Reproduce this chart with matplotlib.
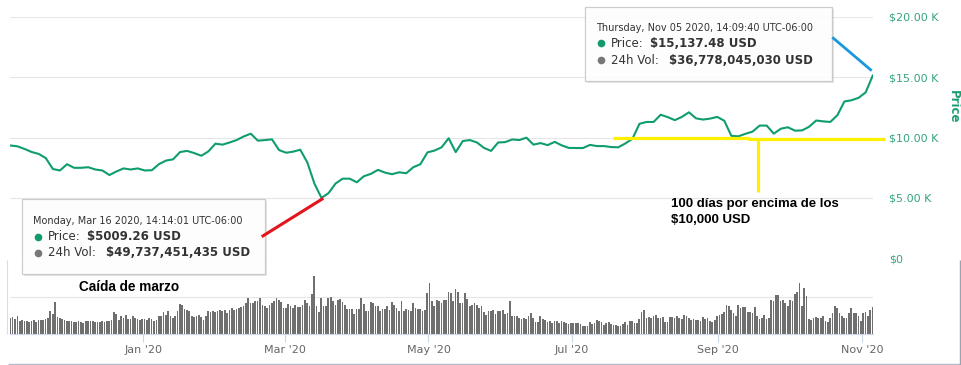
import pandas as pd
import matplotlib.pyplot as plt
from matplotlib.lines import Line2D
from matplotlib.patches import Rectangle

W, H = 962, 365

# BTC price (thousands of USD), one reading every 3 days from Nov 5 2019
price_k = [
    9.35, 9.28, 9.06, 8.81, 8.65, 8.30, 7.40, 7.28, 7.80, 7.50,
    7.50, 7.55, 7.36, 7.28, 6.90, 7.20, 7.45, 7.36, 7.45, 7.28,
    7.30, 7.80, 8.10, 8.20, 8.81, 8.90, 8.72, 8.50, 8.86, 9.50,
    9.42, 9.60, 9.80, 10.10, 10.33, 9.75, 9.80, 9.86, 8.97, 8.75,
    8.84, 9.00, 7.95, 6.20, 5.01, 5.40, 6.20, 6.60, 6.60, 6.30,
    6.80, 7.00, 7.33, 7.10, 6.97, 7.13, 7.05, 7.55, 7.80, 8.78,
    8.93, 9.20, 9.95, 8.80, 9.72, 9.80, 9.60, 9.15, 8.90, 9.60,
    9.63, 9.85, 9.80, 10.00, 9.42, 9.55, 9.38, 9.65, 9.36, 9.15,
    9.14, 9.14, 9.40, 9.30, 9.30, 9.22, 9.20, 9.52, 9.90, 11.15,
    11.30, 11.30, 11.90, 11.70, 11.45, 11.72, 12.10, 11.60, 11.50, 11.58,
    11.72, 11.40, 10.15, 10.11, 10.32, 10.50, 11.00, 11.00, 10.33, 10.74,
    10.86, 10.58, 10.60, 10.90, 11.42, 11.35, 11.30, 11.86, 13.00, 13.10,
    13.30, 13.75, 15.14,
]
price_dates = pd.date_range('2019-11-05 14:00', periods=len(price_k), freq='3D')

# daily 24h volume (billions of USD)
vol_nov_feb = [
    21.8, 22.7, 20.9, 24.1, 17.3, 18.6, 17.3, 18.2, 16.4, 17.3,
    19.5, 16.4, 19.5, 19.5, 19.5, 20.5, 21.8, 31.8, 27.7, 43.6,
    22.7, 21.8, 20.5, 19.5, 18.2, 17.3, 17.3, 16.4, 15.9, 17.3,
    16.4, 15.0, 17.3, 18.2, 17.3, 17.3, 16.4, 15.9, 15.9, 17.3,
    16.4, 17.3, 17.3, 19.5, 29.5, 27.7, 19.5, 24.1, 21.8, 26.4,
    20.5, 20.5, 24.1, 21.4, 20.5, 19.5, 20.5, 20.5, 19.5, 21.8,
    20.5, 17.3, 19.5, 24.1, 24.1, 29.5, 26.4, 30.9, 24.1, 21.8,
    24.1, 30.9, 40.9, 40.0, 34.1, 33.2, 30.9, 24.1, 23.2, 24.1,
    26.4, 23.2, 19.5, 24.1, 30.9, 30.0, 30.9, 29.5, 30.9, 33.2,
    30.9, 32.3,
]
vol_feb_may = [
    28.6, 33.2, 35.5, 33.2, 34.1, 35.5, 36.8, 37.7, 42.3, 49.1,
    42.3, 42.3, 44.5, 44.5, 49.1, 40.0, 37.7, 35.5, 40.0, 42.3,
    44.5, 48.2, 46.8, 43.2, 35.5, 35.5, 40.9, 38.6, 35.5, 40.0,
    36.8, 36.8, 40.0, 45.9, 42.3, 37.7, 53.6, 78.6,
    37.7, 29.5, 49.1, 37.7, 37.7, 49.1, 50.5, 44.5, 40.0, 46.8,
    47.7, 43.6, 40.0, 34.1, 34.1, 34.1, 27.7, 34.1, 34.1, 49.1,
    40.9, 30.9, 30.9, 43.2, 42.3, 38.6, 37.7, 30.9, 34.1, 34.1,
    37.7, 33.2, 43.2, 40.0, 35.5, 30.9, 44.5, 30.9, 34.1, 32.3,
    30.9, 42.3, 35.5, 34.1, 34.1, 30.9, 33.2, 55.9, 69.5,
    44.5, 38.6, 45.9, 44.5, 42.3, 46.8,
]
vol_may_aug = [
    46.8, 56.8, 55.0, 44.5, 61.4, 56.8, 42.3, 42.3, 55.9, 47.7,
    38.6, 40.0, 42.3, 40.0, 35.5, 38.6, 29.5, 26.4, 30.9, 30.9,
    32.3, 27.7, 30.9, 30.9, 32.3, 27.7, 28.6, 44.5, 24.1, 24.1,
    25.0, 21.8, 20.5, 21.8, 20.5, 24.1, 28.6, 21.8, 15.9, 15.9,
    25.0, 20.9, 19.5, 15.9, 17.3, 15.0, 18.2, 17.3, 15.0, 17.3,
    15.9, 15.0, 13.6, 15.0, 15.0, 15.0, 15.0, 13.6, 11.4, 10.5,
    11.4, 15.9, 14.1, 15.0, 18.6, 17.3, 15.9, 12.7, 15.0, 16.4,
    14.1, 12.7, 12.7, 10.5, 10.5, 13.6, 15.9, 12.7, 17.3, 17.3,
    15.0, 15.0, 20.5, 29.5, 32.3, 21.8, 22.7, 21.8, 24.1, 26.4,
    21.8, 21.8,
]
vol_aug_nov = [
    22.7, 15.9, 15.9, 23.2, 23.2, 21.8, 24.1, 21.8, 20.5, 25.5,
    24.1, 21.8, 19.5, 20.5, 19.5, 18.6, 17.3, 22.7, 20.9, 21.8,
    17.3, 15.9,
    19.5, 24.1, 26.4, 27.7, 29.5, 40.0, 37.7, 33.2, 28.6, 25.0,
    40.0, 35.5, 36.8, 36.8, 29.5, 29.5, 28.6, 36.8, 25.0, 20.5,
    21.8, 26.4, 20.5, 21.8,
    45.9, 44.5, 52.3, 52.3, 44.5, 45.9, 42.3, 38.6, 45.9, 44.5,
    53.6, 56.8, 68.6, 37.7, 62.7, 51.4,
    20.5, 18.6, 21.8, 23.2, 21.8, 21.8, 24.1, 17.3, 15.9, 21.8,
    28.6, 37.7, 35.5, 28.6, 24.1, 21.8, 21.8, 28.6, 35.5, 28.6,
    28.6, 24.1, 17.3, 28.6, 29.5, 24.1, 33.2, 36.8,
]
volume_b = vol_nov_feb + vol_feb_may + vol_may_aug + vol_aug_nov
vol_dates = pd.date_range(end='2020-11-05 12:00', periods=len(volume_b), freq='D')

price_ticks = [0, 5, 10, 15, 20]
price_tick_labels = ['$0', '$5.00 K', '$10.00 K', '$15.00 K', '$20.00 K']
month_ticks = pd.to_datetime(['2020-01-01', '2020-03-01', '2020-05-01',
                              '2020-07-01', '2020-09-01', '2020-11-01'])
month_labels = ["Jan '20", "Mar '20", "May '20", "Jul '20", "Sep '20", "Nov '20"]


def fx(x):
    return x / W


def fy(y):
    return 1 - y / H


fig = plt.figure(figsize=(9.62, 3.65), dpi=100)
left, right = 10, 873
xlim = (pd.Timestamp('2019-11-05 09:00'), pd.Timestamp('2020-11-05 17:00'))
ax = fig.add_axes([fx(left), fy(258.3), (right - left) / W, (258.3 - 17) / H])
axv = fig.add_axes([fx(left), fy(334.3), (right - left) / W, (334.3 - 270) / H], sharex=ax)

# price panel
ax.plot(price_dates, price_k, color='#0f9d6f', lw=1.5, solid_joinstyle='round', zorder=3)
ax.set_ylim(0, 20)
ax.set_xlim(*xlim)
ax.set_yticks(price_ticks)
ax.set_yticklabels(price_tick_labels)
ax.yaxis.tick_right()
ax.tick_params(axis='y', length=0, pad=11.5, labelsize=8, labelcolor='#35a37c')
ax.tick_params(axis='x', length=0, labelbottom=False)
ax.grid(axis='y', color='#e6e6e6', lw=0.8)
for s in ax.spines.values():
    s.set_visible(False)
fig.text(fx(953), fy(107), 'Price', rotation=270, color='#1b9e6f', fontsize=8.5,
         fontweight='bold', ha='center', va='center')

# volume panel
axv.bar(vol_dates, volume_b, width=0.72, color='#6f6f6f', antialiased=False, zorder=2)
axv.set_ylim(0, 86.5)
axv.set_yticks([50])
axv.tick_params(axis='y', length=0, labelleft=False)
axv.grid(axis='y', color='#e6e6e6', lw=0.8)
axv.set_xticks(month_ticks)
axv.set_xticklabels(month_labels)
axv.tick_params(axis='x', length=6, width=0.8, color='#ccd6eb', pad=2,
                labelsize=8, labelcolor='#666666')
for name, s in axv.spines.items():
    s.set_visible(name == 'bottom')
axv.spines['bottom'].set_color('#ccd6eb')
axv.set_xlim(*xlim)


def tooltip(x0, y0, x1, y1, date_txt, price_txt, vol_txt, tx, dx_price, dx_vol, ys):
    fig.add_artist(Rectangle((fx(x0 + 2), fy(y1 + 2)), (x1 - x0) / W, (y1 - y0) / H,
                             transform=fig.transFigure, facecolor='black', alpha=0.10,
                             edgecolor='none', zorder=5))
    fig.add_artist(Rectangle((fx(x0), fy(y1)), (x1 - x0) / W, (y1 - y0) / H,
                             transform=fig.transFigure, facecolor='white', alpha=0.93,
                             edgecolor='#c8c8c8', lw=0.9, zorder=6))
    fig.text(fx(tx), fy(ys[0]), date_txt, fontsize=7, color='#333333', va='center', zorder=7)
    for y, col, lab, dx, val in [(ys[1], '#119a6c', 'Price:', dx_price, price_txt),
                                 (ys[2], '#777777', '24h Vol:', dx_vol, vol_txt)]:
        fig.add_artist(Line2D([fx(tx + 5)], [fy(y)], transform=fig.transFigure,
                              marker='o', ms=4.5, color=col, zorder=7))
        fig.text(fx(tx + 15), fy(y), lab, fontsize=8.5, color='#333333', va='center', zorder=7)
        fig.text(fx(tx + dx), fy(y), val, fontsize=8.5, fontweight='bold',
                 color='#333333', va='center', zorder=7)


tooltip(22, 199, 265, 274, 'Monday, Mar 16 2020, 14:14:01 UTC-06:00',
        '$5009.26 USD', '$49,737,451,435 USD', 33, 54, 73, (221, 236.7, 252.7))
tooltip(585, 7, 832, 81, 'Thursday, Nov 05 2020, 14:09:40 UTC-06:00',
        '$15,137.48 USD', '$36,778,045,030 USD', 596, 54, 73, (28.3, 43.3, 60))


def segment(x0, y0, x1, y1, color, lw):
    fig.add_artist(Line2D([fx(x0), fx(x1)], [fy(y0), fy(y1)], transform=fig.transFigure,
                          color=color, lw=lw, solid_capstyle='butt', zorder=8))


segment(261.7, 236.7, 323.3, 198.3, '#e3141b', 2.2)
segment(832.3, 37.3, 871.7, 70.7, '#1a98dc', 2.0)
segment(613, 137.7, 750, 137.7, '#fff000', 2.3)
segment(748, 139.3, 885, 139.3, '#fff000', 2.3)
segment(757.7, 138, 757.7, 191.7, '#fff000', 2.3)

fig.text(fx(671), fy(203.5), '100 días por encima de los', family='Liberation Sans',
         fontsize=9.5, fontweight='bold', color='black', va='center')
fig.text(fx(671), fy(220), '$10,000 USD', family='Liberation Sans',
         fontsize=9.5, fontweight='bold', color='black', va='center')
fig.text(fx(79), fy(287.3), 'Caída de marzo', family='Liberation Sans',
         fontsize=9.8, fontweight='bold', color='black', va='center')

# screenshot borders
segment(8, 363.5, 962, 363.5, '#b4bccb', 1.0)
segment(960.5, 260, 960.5, 365, '#9aa3b0', 1.0)
segment(7, 260, 7, 334, '#dddddd', 0.8)

fig.savefig('out.png', dpi=100)
